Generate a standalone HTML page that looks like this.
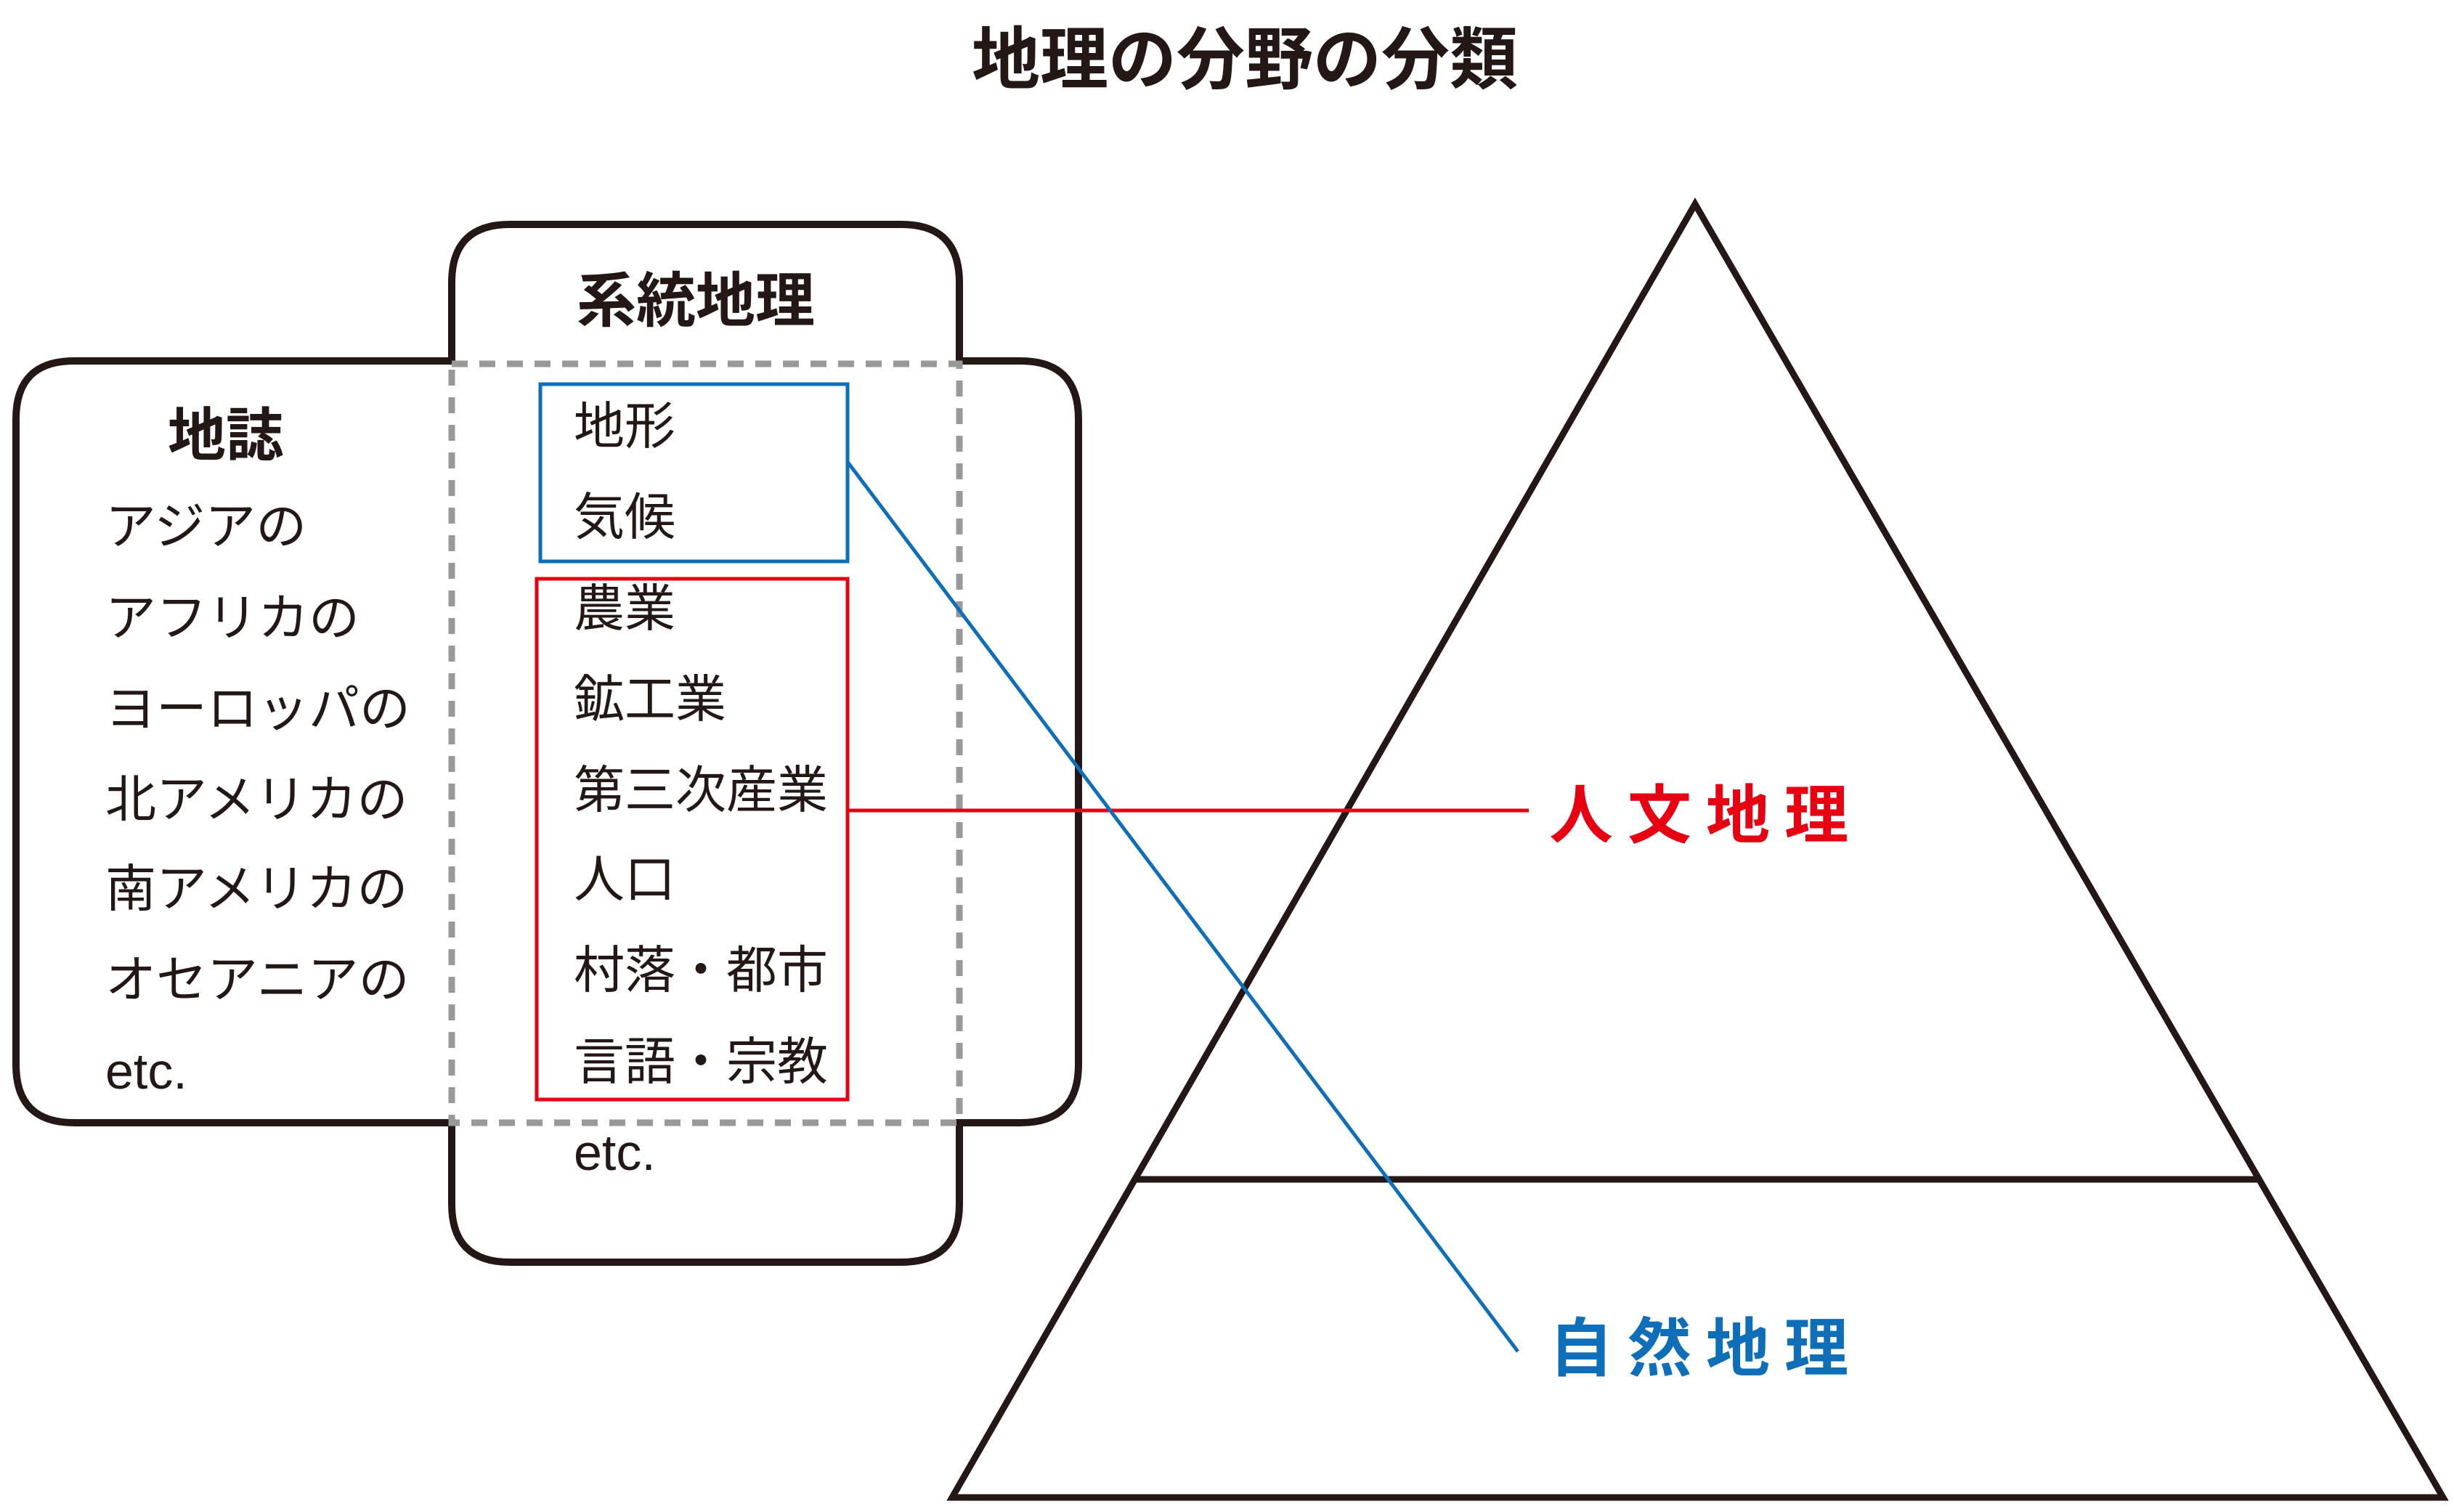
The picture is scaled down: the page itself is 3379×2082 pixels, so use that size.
<!DOCTYPE html>
<html><head><meta charset="utf-8"><style>
html,body{margin:0;padding:0;background:#fff}
svg{display:block}
text{font-family:"Liberation Sans","Noto Sans CJK JP",sans-serif;fill:#231815}
</style></head><body>
<svg width="3379" height="2082" viewBox="0 0 3379 2082" xmlns="http://www.w3.org/2000/svg">
<text x="1714" y="82" font-size="94" font-weight="700" text-anchor="middle" dominant-baseline="central">地理の分野の分類</text>
<path d="M622,497 L622,389 Q622,309 702,309 L1241,309 Q1321,309 1321,389 L1321,497 L1405,497 Q1485,497 1485,577 L1485,1466 Q1485,1546 1405,1546 L1321,1546 L1321,1658 Q1321,1738 1241,1738 L702,1738 Q622,1738 622,1658 L622,1546 L102,1546 Q22,1546 22,1466 L22,577 Q22,497 102,497 Z" fill="none" stroke="#231815" stroke-width="10"/>
<rect x="622" y="501" width="699" height="1045" fill="none" stroke="#999" stroke-width="9" stroke-dasharray="22 16"/>
<rect x="744" y="529" width="423" height="244" fill="none" stroke="#0e6eb8" stroke-width="5"/>
<rect x="739" y="797" width="428" height="717" fill="none" stroke="#e60012" stroke-width="5"/>
<polygon points="2334,281 1311,2062 3364,2062" fill="none" stroke="#231815" stroke-width="9" stroke-linejoin="miter"/>
<line x1="1565" y1="1624" x2="3109" y2="1624" stroke="#231815" stroke-width="9"/>
<line x1="1167" y1="1116" x2="2105" y2="1116" stroke="#e60012" stroke-width="5"/>
<line x1="1167" y1="636" x2="2090" y2="1861" stroke="#0e6eb8" stroke-width="5"/>
<text x="2133" y="1123" font-size="88" font-weight="700" letter-spacing="20" dominant-baseline="central" style="fill:#e60012">人文地理</text>
<text x="2133" y="1857" font-size="88" font-weight="700" letter-spacing="20" dominant-baseline="central" style="fill:#0e6eb8">自然地理</text>
<text x="794" y="415" font-size="82" font-weight="700" dominant-baseline="central">系統地理</text>
<text x="231" y="600" font-size="80" font-weight="700" dominant-baseline="central">地誌</text>
<g font-size="70" dominant-baseline="central">
<text x="145" y="725">アジアの</text>
<text x="145" y="851">アフリカの</text>
<text x="145" y="976">ヨーロッパの</text>
<text x="145" y="1101">北アメリカの</text>
<text x="145" y="1224">南アメリカの</text>
<text x="145" y="1349">オセアニアの</text>
<text x="145" y="1475">etc.</text>
<text x="790" y="587">地形</text>
<text x="790" y="712">気候</text>
<text x="790" y="838">農業</text>
<text x="790" y="963">鉱工業</text>
<text x="790" y="1088">第三次産業</text>
<text x="790" y="1211">人口</text>
<text x="790" y="1336">村落・都市</text>
<text x="790" y="1462">言語・宗教</text>
<text x="790" y="1587">etc.</text>
</g>
</svg>
</body></html>
